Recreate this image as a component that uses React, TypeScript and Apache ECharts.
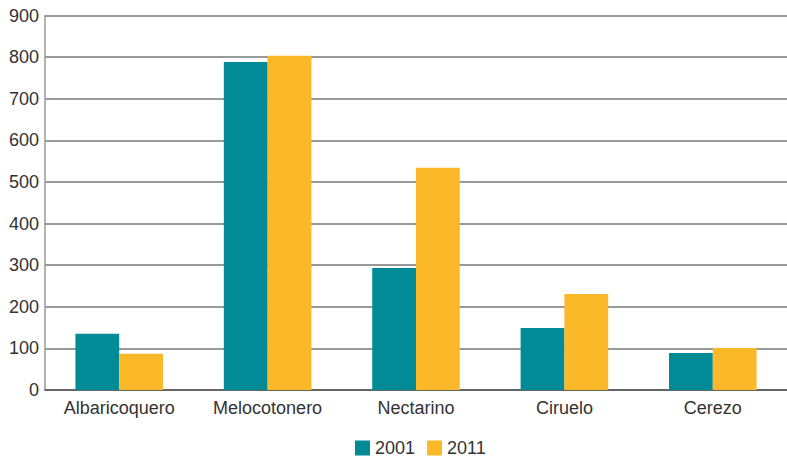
import React, { useEffect, useRef } from "react";
import * as echarts from "echarts";

const categories = ["Albaricoquero", "Melocotonero", "Nectarino", "Ciruelo", "Cerezo"];
const values2001 = [135, 788, 293, 149, 89];
const values2011 = [87, 803, 534, 231, 101];
const seriesNames = ["2001", "2011"];

export default function App() {
  const ref = useRef<HTMLDivElement>(null);
  useEffect(() => {
    document.body.style.margin = "0";
    const chart = echarts.init(ref.current!, null, { renderer: "svg" });
    const font = "'Liberation Sans', Arial, Helvetica, sans-serif";
    chart.setOption({
      animation: false,
      textStyle: { fontFamily: font },
      legend: {
        data: seriesNames,
        top: 434,
        left: 350,
        padding: 5,
        itemWidth: 15,
        itemHeight: 15,
        itemGap: 12,
        icon: "rect",
        textStyle: { fontSize: 18, color: "#333", fontFamily: font },
      },
      grid: { left: 45, right: 0, top: 15.5, bottom: 67 },
      xAxis: {
        type: "category",
        data: categories,
        axisTick: { show: false },
        axisLine: { lineStyle: { color: "#555", width: 1.5 } },
        axisLabel: { fontSize: 18, color: "#333", margin: 9, fontFamily: font },
      },
      yAxis: {
        type: "value",
        min: 0,
        max: 900,
        interval: 100,
        axisLine: { show: true, lineStyle: { color: "#999", width: 1.5 } },
        axisTick: { show: false },
        splitLine: { lineStyle: { color: "#777", width: 1.5 } },
        axisLabel: { fontSize: 18, color: "#333", margin: 6, fontFamily: font },
      },
      series: [
        {
          name: seriesNames[0],
          type: "bar",
          data: values2001,
          itemStyle: { color: "#008B96" },
          barGap: "0%",
          barCategoryGap: "41%",
        },
        {
          name: seriesNames[1],
          type: "bar",
          data: values2011,
          itemStyle: { color: "#FBB829" },
          barGap: "0%",
          barCategoryGap: "41%",
        },
      ],
    });
    return () => chart.dispose();
  }, []);
  return <div ref={ref} style={{ width: 787, height: 457 }} />;
}
